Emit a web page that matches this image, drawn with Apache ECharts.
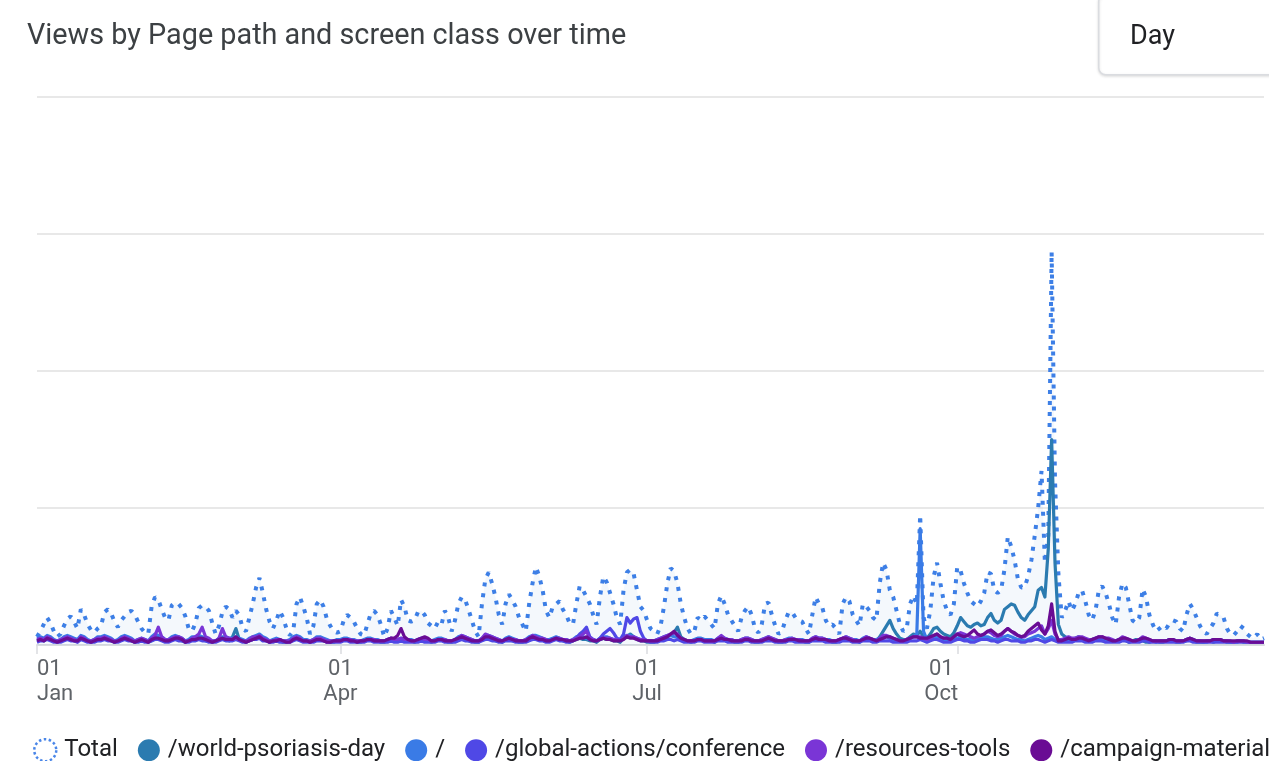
<!DOCTYPE html>
<html>
<head>
<meta charset="utf-8">
<title>Views by Page path and screen class over time</title>
<script src="https://cdn.jsdelivr.net/npm/echarts@6/dist/echarts.min.js"></script>
<style>
  html, body { margin: 0; padding: 0; background: #fff; }
  #viewsChart { width: 1269px; height: 761px; }
</style>
</head>
<body>
<div id="viewsChart"></div>
<script>
// daily views, 1 Jan - 31 Dec
var seriesNames = ['Total', '/world-psoriasis-day', '/', '/global-actions/conference', '/resources-tools', '/campaign-material'];
var seriesColors = ['#3d7fe6', '#2b7bb0', '#3a7be6', '#4f48e6', '#7a35d6', '#6a0c94'];

var monthStarts = [0, 90, 181, 273];
var monthLabels = ['Jan', 'Apr', 'Jul', 'Oct'];

var total = [
	6,10,15,20,16,10,6,8,14,19, 21,17,12,26,22,15,11,9,12,14,
	24,26,23,17,13,18,21,24,25,22, 17,12,9,8,28,35,33,26,20,18,
	29,31,30,27,21,12,10,16,27,29, 28,25,16,8,14,24,28,26,20,25,
	22,12,10,20,30,42,49,38,26,17, 12,18,25,20,12,7,10,30,35,28,
	20,8,14,30,33,28,19,14,10,9, 10,18,22,20,17,12,8,7,15,23,
	25,22,15,6,12,25,20,14,33,28, 18,17,18,24,25,22,16,14,12,17,
	15,25,20,10,18,30,35,33,26,18, 10,6,30,48,53,45,35,22,15,30,
	37,33,28,20,15,10,30,45,57,50, 40,25,20,28,30,32,26,22,16,15,
	30,43,40,35,30,22,15,35,50,46, 38,30,20,15,40,53,55,52,40,28,
	25,18,12,10,8,14,28,45,56,54, 45,30,20,12,8,10,20,18,21,18,
	15,12,30,36,30,22,18,14,10,20, 25,28,22,12,9,15,30,31,22,14,
	8,10,18,24,24,20,18,17,12,8, 22,35,30,27,18,14,15,12,8,30,
	35,32,22,18,14,30,28,25,20,18, 45,60,55,40,35,25,15,10,12,30,
	36,30,95,20,12,25,50,60,45,32, 25,22,30,57,54,45,38,32,30,28,
	32,38,53,52,40,38,40,55,79,72, 62,48,42,42,50,62,80,100,127,60,
	80,287,120,52,20,25,32,25,30,38, 40,32,22,18,25,40,43,38,30,20,
	15,35,45,42,30,18,16,20,41,35, 22,15,10,12,14,12,16,18,17,12,
	10,22,30,26,20,14,10,8,12,16, 23,22,20,12,8,7,10,14,12,8,
	6,5,8,4,5
];

var worldDay = [
	3,4,3,5,4,3,2,3,4,5, 4,3,3,4,5,3,2,3,4,4, 5,4,3,2,3,4,5,4,3,2, 3,4,3,2,3,5,6,4,3,3, 4,5,4,3,2,3,4,4,5,4,
	3,3,2,3,4,5,4,3,6,12, 4,3,2,3,4,5,6,4,3,2, 3,4,3,2,2,3,4,5,4,3, 3,2,3,4,4,3,3,2,2,3, 3,4,4,3,3,2,2,3,4,4,
	3,3,2,2,3,4,3,3,4,3, 3,3,2,3,4,3,3,2,3,4, 4,3,2,2,3,4,5,4,3,3, 2,2,4,5,5,4,3,3,2,4, 4,3,3,2,2,3,4,5,5,4,
	4,3,3,4,5,4,3,3,2,3, 4,5,4,4,3,3,2,4,5,4, 4,3,3,2,5,6,8,6,4,3, 3,2,2,2,3,4,5,6,7,9, 13,6,4,3,2,3,4,4,3,3,
	3,2,4,5,4,3,3,2,2,3, 4,4,3,2,2,3,4,5,4,3, 2,2,3,4,4,3,3,3,2,2, 4,5,4,4,3,3,2,2,3,4, 5,4,3,3,2,4,5,4,3,3,
	6,10,14,18,12,8,5,4,4,6, 8,7,10,6,5,8,12,13,10,8, 7,6,9,14,20,17,14,13,15,16, 14,15,20,23,18,16,18,26,28,30, 29,24,20,18,22,25,28,40,42,35,
	70,150,60,15,8,6,5,4,5,6, 5,4,3,4,5,4,3,3,4,3, 3,4,4,3,2,3,4,3,3,2, 2,3,3,2,2,3,4,3,2,2, 3,3,4,3,2,2,2,3,3,2,
	3,4,3,2,2,2,3,3,2,2, 2,2,2,2,2
];

var homePage = [
	5,6,5,7,6,4,3,4,6,7, 6,5,4,7,6,4,3,4,6,6, 7,6,5,3,4,6,7,6,5,3, 4,5,4,3,6,8,7,6,4,4, 6,7,6,5,3,4,6,6,7,6,
	5,4,3,3,5,6,6,5,5,6, 5,4,3,5,6,7,8,6,5,3, 4,5,4,3,3,4,6,7,6,4, 4,3,4,6,6,5,4,3,3,4, 4,5,5,4,4,3,3,4,5,5,
	4,4,3,3,4,5,4,4,5,4, 4,4,3,4,5,4,4,3,4,5, 5,4,3,3,4,6,7,6,5,4, 3,3,5,7,7,6,5,4,3,5, 6,5,4,3,3,4,6,7,7,6,
	5,4,4,5,6,5,4,4,3,4, 6,7,6,5,4,4,3,5,6,6, 5,4,4,3,6,7,7,6,5,4, 4,3,3,3,4,5,6,7,7,6, 6,5,4,3,3,4,5,5,4,4,
	4,3,5,6,5,4,4,3,3,4, 5,5,4,3,3,4,5,6,5,4, 3,3,4,5,5,4,4,4,3,3, 5,6,5,5,4,4,3,3,4,5, 6,5,4,4,3,5,6,5,4,4,
	5,6,6,5,4,4,3,3,4,5, 6,8,85,10,4,5,6,6,5,4, 4,3,4,5,6,5,4,4,3,4, 5,6,6,5,4,4,5,6,7,6, 5,4,4,3,4,5,6,7,6,4,
	5,6,4,3,3,4,4,3,4,5, 5,4,3,3,4,5,5,4,4,3, 3,4,5,4,3,3,3,4,5,4, 3,3,2,3,3,3,4,4,3,3, 3,4,5,4,3,3,2,2,3,4,
	4,4,3,3,2,2,2,3,3,2, 2,2,2,2,2
];

var conference = [
	2,3,3,4,3,2,2,2,3,4, 3,3,2,4,3,2,2,2,3,3, 4,3,3,2,2,3,4,3,3,2, 2,3,2,2,3,4,4,3,2,2, 3,4,3,3,2,2,3,3,4,3,
	3,2,2,2,3,4,3,3,3,4, 3,2,2,3,4,4,5,3,3,2, 2,3,2,2,2,2,3,4,3,2, 2,2,2,3,3,3,2,2,2,2, 2,3,3,2,2,2,2,2,3,3,
	2,2,2,2,2,3,2,2,3,2, 2,2,2,2,3,2,2,2,2,3, 3,2,2,2,2,3,4,3,3,2, 2,2,3,4,4,3,3,2,2,3, 3,3,2,2,2,2,3,4,4,3,
	3,2,2,3,4,3,3,2,2,3, 5,8,10,13,6,4,3,5,8,10, 12,9,5,4,8,20,16,19,20,10, 5,3,2,2,2,3,3,4,4,3, 4,3,2,2,2,2,3,3,2,2,
	2,2,3,3,3,2,2,2,2,2, 3,3,2,2,2,2,3,3,3,2, 2,2,2,3,3,2,2,2,2,2, 3,3,3,3,2,2,2,2,2,3, 3,3,2,2,2,3,3,3,2,2,
	3,3,3,3,2,2,2,2,2,3, 3,3,4,3,2,3,4,4,3,2, 2,2,3,4,4,3,3,2,2,3, 4,4,4,3,3,2,3,4,4,3, 3,3,2,2,3,3,4,4,3,2,
	3,4,3,2,2,2,2,2,3,3, 3,2,2,2,3,3,3,2,2,2, 2,2,3,3,2,2,2,2,3,3, 2,2,2,2,2,2,2,2,2,2, 2,3,3,2,2,2,2,2,2,2,
	2,2,2,2,2,2,2,2,2,2, 2,2,2,2,2
];

var resources = [
	4,5,4,6,5,3,3,4,5,6, 5,4,3,6,5,3,3,4,5,5, 6,5,4,3,3,5,6,5,4,3, 4,5,4,3,5,7,13,6,4,4, 5,6,6,5,3,3,5,6,8,13,
	6,5,3,3,5,12,6,5,4,5, 4,3,3,4,6,6,7,5,4,3, 3,4,4,3,3,3,5,6,5,3, 3,3,4,5,5,4,3,3,3,3, 3,4,4,4,3,3,3,3,4,4,
	4,3,3,3,4,5,4,4,5,4, 4,3,3,4,5,4,4,3,3,4, 4,4,3,3,4,5,7,6,5,4, 3,3,5,8,7,6,5,4,3,4, 5,4,4,3,3,4,5,7,6,5,
	5,4,3,4,5,5,4,4,3,4, 5,6,8,10,5,4,3,4,5,5, 5,4,4,3,5,7,6,6,5,4, 4,3,3,3,4,5,6,7,8,9, 8,5,4,3,3,3,4,4,3,3,
	3,3,5,7,5,4,4,3,3,4, 5,5,4,3,3,4,5,6,5,4, 3,3,4,4,5,4,4,3,3,3, 5,6,5,5,4,3,3,3,4,5, 6,5,4,3,3,4,6,5,4,3,
	5,7,7,6,5,4,3,3,4,5, 6,6,6,5,4,5,7,8,6,5, 5,4,6,8,9,8,7,6,5,6, 7,8,10,9,7,6,7,10,12,10, 8,7,6,6,8,9,10,12,14,8,
	12,18,8,4,4,5,6,5,5,6, 6,5,4,4,5,6,6,5,5,4, 3,4,6,5,4,3,3,4,6,5, 4,3,3,3,3,3,4,4,3,3, 3,4,5,4,3,3,3,3,3,4,
	4,4,3,3,3,2,3,3,3,2, 2,2,2,2,2
];

var campaign = [
	3,4,3,5,4,3,2,3,4,5, 4,3,3,5,4,3,2,3,4,4, 5,4,3,2,3,4,5,4,3,2, 3,4,3,2,4,5,5,4,3,3, 4,5,5,4,2,3,4,4,5,5,
	4,3,2,3,4,5,4,4,4,6, 4,3,2,3,4,5,6,4,3,2, 3,3,4,3,2,2,4,5,4,3, 3,2,3,4,4,3,2,2,3,3, 3,4,4,3,3,2,3,3,4,4,
	3,3,3,3,4,5,5,7,12,6, 4,3,3,4,5,6,5,3,3,4, 4,3,3,3,4,5,6,5,4,3, 3,3,4,6,6,5,4,3,3,4, 5,4,3,3,3,3,5,6,5,4,
	4,3,3,4,5,4,4,3,3,3, 4,5,5,6,4,3,3,4,5,4, 4,3,3,3,4,6,5,5,4,3, 3,3,3,3,3,4,5,6,8,10, 7,5,4,3,3,3,4,4,3,3,
	3,3,4,5,4,4,3,3,3,3, 4,4,3,3,3,3,4,5,4,3, 3,3,3,4,4,4,3,3,3,3, 4,5,4,4,4,3,3,3,4,5, 5,4,3,3,3,4,5,5,4,3,
	4,5,6,6,5,4,3,3,4,5, 6,6,5,5,5,6,7,8,6,5, 5,4,6,8,7,6,7,9,11,8, 7,8,10,11,9,7,8,10,12,10, 9,7,6,7,10,12,14,16,11,8,
	14,30,10,3,3,4,5,4,4,5, 5,4,3,4,5,6,6,5,4,3, 3,4,5,5,4,3,3,4,5,5, 4,3,3,3,3,3,4,4,3,3, 3,4,5,4,3,3,3,3,3,4,
	4,4,3,3,3,3,3,3,3,3, 2,2,2,2,2
];

var seriesData = [total, worldDay, homePage, conference, resources, campaign];

// one category per day of 2023
var days = [];
for (var i = 0; i < total.length; i++) {
	var d = new Date(2023, 0, 1 + i);
	days.push(d.getFullYear() + '-' + (d.getMonth() + 1) + '-' + d.getDate());
}

var chart = echarts.init(document.getElementById('viewsChart'));

function isMonthStart(index) {
	return monthStarts.indexOf(index) >= 0;
}

var series = seriesData.map(function(data, i) {
	var s = {
		name: seriesNames[i],
		type: 'line',
		data: data,
		showSymbol: false,
		symbol: 'none',
		animation: false,
		z: 2 + i,
		lineStyle: { color: seriesColors[i], width: 3.2, join: 'round' },
		itemStyle: { color: seriesColors[i] }
	};
	if (i === 0) {
		s.lineStyle = { color: seriesColors[0], width: 4, type: [4, 7], cap: 'butt' };
		s.areaStyle = { color: 'rgba(60, 120, 200, 0.08)' };
	}
	return s;
});

var legendData = seriesNames.map(function(name, i) {
	if (i === 0) {
		return {
			name: name,
			icon: 'circle',
			itemStyle: { color: '#ffffff', borderColor: '#4a86e8', borderWidth: 2.5, borderType: [2.5, 2.5] }
		};
	}
	return { name: name, icon: 'circle', itemStyle: { color: seriesColors[i] } };
});

var option = {
	backgroundColor: '#ffffff',
	animation: false,
	textStyle: { fontFamily: 'Roboto, "Noto Sans", sans-serif' },
	title: {
		text: 'Views by Page path and screen class over time',
		left: 22,
		top: 17,
		textStyle: { fontSize: 28.8, fontWeight: 'normal', color: '#3c4043', fontFamily: 'Roboto' }
	},
	graphic: [
		{
			type: 'rect',
			left: 1098,
			top: -6,
			shape: { width: 200, height: 80, r: 7 },
			style: { fill: '#ffffff', stroke: '#dadce0', lineWidth: 1.5, shadowBlur: 3, shadowColor: 'rgba(0,0,0,0.12)', shadowOffsetY: 1 }
		},
		{
			type: 'text',
			left: 1130,
			top: 24,
			style: { text: 'Day', fontSize: 27, fill: '#202124', fontFamily: 'Roboto' }
		}
	],
	legend: {
		data: legendData,
		left: 28,
		top: 733,
		width: 1600,
		itemWidth: 22,
		itemHeight: 22,
		itemGap: 20,
		textStyle: { fontSize: 24, color: '#202124', fontFamily: 'Roboto', padding: [0, 0, 0, 3] }
	},
	grid: { left: 37, right: 5, top: 97, bottom: 116 },
	xAxis: {
		type: 'category',
		data: days,
		boundaryGap: false,
		axisLine: { show: true, lineStyle: { color: '#dadce0', width: 2 } },
		axisTick: {
			show: true,
			interval: function(index) { return isMonthStart(index); },
			length: 9,
			lineStyle: { color: '#dadce0', width: 1.5 }
		},
		axisLabel: {
			interval: function(index) { return isMonthStart(index); },
			formatter: function(value, index) {
				var k = monthStarts.indexOf(index);
				if (k < 0) { return ''; }
				if (monthLabels[k] === 'Oct') { return '{oct|01}\n{oct|Oct}'; }
				return '01\n' + monthLabels[k];
			},
			alignMinLabel: 'left',
			margin: 12,
			fontSize: 22,
			lineHeight: 25,
			color: '#5f6368',
			fontFamily: 'Roboto',
			rich: {
				oct: { fontSize: 22, lineHeight: 25, color: '#5f6368', padding: [0, 32, 0, 0], fontFamily: 'Roboto' }
			}
		},
		splitLine: { show: false }
	},
	yAxis: {
		type: 'value',
		min: 0,
		max: 400,
		interval: 100,
		axisLabel: { show: false },
		axisLine: { show: false },
		axisTick: { show: false },
		splitLine: { lineStyle: { color: '#e8e8e8', width: 2 } }
	},
	series: series
};

chart.setOption(option);
</script>
</body>
</html>
